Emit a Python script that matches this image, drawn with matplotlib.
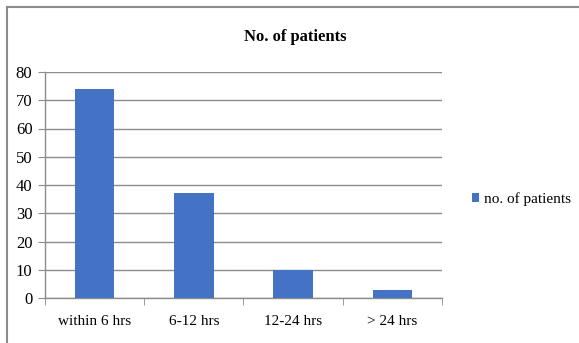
import matplotlib
matplotlib.use("Agg")
import matplotlib.pyplot as plt
from matplotlib.lines import Line2D
import numpy as np

categories = ["within 6 hrs", "6-12 hrs", "12-24 hrs", "> 24 hrs"]
values = [74, 37, 10, 3]
yticks = [0, 10, 20, 30, 40, 50, 60, 70, 80]
title = "No. of patients"
series_name = "no. of patients"

plt.rcParams['font.family'] = ['Liberation Serif', 'DejaVu Serif']

W, H = 579, 343
fig = plt.figure(figsize=(W / 100, H / 100), dpi=100)
fig.patch.set_facecolor('white')

# outer border: only top and left edges visible
fig.add_artist(Line2D([7.5 / W, 1.0], [1 - 6.5 / H, 1 - 6.5 / H],
                      transform=fig.transFigure, color='#8c8c8c', linewidth=1.5))
fig.add_artist(Line2D([7.5 / W, 7.5 / W], [0.0, 1 - 6.5 / H],
                      transform=fig.transFigure, color='#8c8c8c', linewidth=1.5))

ax = fig.add_axes([45 / W, 1 - 298 / H, (442 - 45) / W, (298 - 72) / H])
x = np.arange(len(categories))
bars = ax.bar(x, values, width=0.4, color='#4472C4', label=series_name, zorder=3)

ax.set_xlim(-0.5, len(categories) - 0.5)
ax.set_ylim(0, 80)
ax.set_yticks(yticks)
ax.set_yticklabels([str(v) for v in yticks], fontsize=12)
ax.yaxis.grid(True, color='#8c8c8c', linewidth=1.0, zorder=0)
ax.set_axisbelow(True)

ax.set_xticks(x)
ax.set_xticklabels(categories, fontsize=11)
ax.tick_params(axis='x', length=0, pad=12)
ax.set_xticks(np.arange(-0.5, len(categories), 1.0), minor=True)
ax.tick_params(axis='x', which='minor', length=5, color='#8c8c8c', direction='out')
ax.tick_params(axis='y', length=5, color='#8c8c8c', direction='out', pad=4)

for s in ['top', 'right']:
    ax.spines[s].set_visible(False)
for s in ['left', 'bottom']:
    ax.spines[s].set_color('#8c8c8c')
    ax.spines[s].set_linewidth(1.0)

fig.text(295 / W, 1 - 37 / H, title, ha='center', va='center',
         fontsize=12, fontweight='bold')

fig.legend(handles=[bars], labels=[series_name], loc='center left',
           bbox_to_anchor=(464 / W, 1 - 199 / H), frameon=False,
           fontsize=11, handlelength=0.5, handleheight=0.6, handletextpad=0.3,
           borderpad=0)

fig.savefig("out.png", dpi=100)
